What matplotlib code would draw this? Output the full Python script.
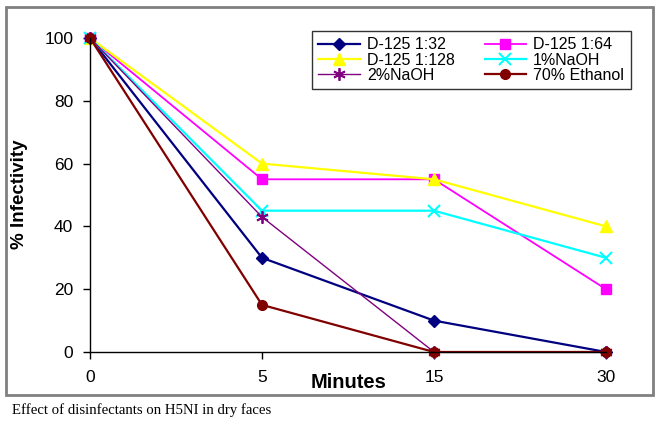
import matplotlib
matplotlib.use("Agg")
import matplotlib.pyplot as plt
from matplotlib.patches import Rectangle

minutes = ["0", "5", "15", "30"]
series_names = ["D-125 1:32", "D-125 1:64", "D-125 1:128", "1%NaOH", "2%NaOH", "70% Ethanol"]
d125_132 = [100, 30, 10, 0]
d125_164 = [100, 55, 55, 20]
d125_1128 = [100, 60, 55, 40]
naoh1 = [100, 45, 45, 30]
naoh2 = [100, 43, 0, 0]
ethanol70 = [100, 15, 0, 0]

plt.rcParams['font.family'] = ['Liberation Sans', 'DejaVu Sans']

fig = plt.figure(figsize=(6.61, 4.34), dpi=100)
ax = fig.add_axes([90/661, 1-352/434, 516/661, 314/434])

styles = [
    dict(color="#000080", marker="D", ms=6, lw=1.6),
    dict(color="#FF00FF", marker="s", ms=7, lw=1.3),
    dict(color="#FFFF00", marker="^", ms=8, lw=1.6),
    dict(color="#00FFFF", marker="x", ms=8, lw=1.6, mew=1.5),
    dict(color="#800080", marker=(6, 2, 0), ms=9, lw=1.0, mew=1.3),
    dict(color="#800000", marker="o", ms=7, lw=1.6),
]
data = [d125_132, d125_164, d125_1128, naoh1, naoh2, ethanol70]
xs = list(range(len(minutes)))
handles = []
for name, vals, st in zip(series_names, data, styles):
    h, = ax.plot(xs, vals, label=name, clip_on=False, **st)
    handles.append(h)

ax.set_xlim(0, 3)
ax.set_ylim(0, 100)
ax.set_xticks(xs)
ax.set_xticklabels(minutes)
ax.set_yticks([0, 20, 40, 60, 80, 100])
ax.spines['top'].set_visible(False)
ax.spines['right'].set_visible(False)
ax.spines['left'].set_linewidth(1)
ax.spines['bottom'].set_linewidth(1)
ax.tick_params(axis='both', direction='out', length=5, width=1, labelsize=12.5, pad=8)
ax.tick_params(axis='y', pad=7)
ax.set_facecolor('white')

fig.text(20/661, 1-194/434, "% Infectivity", rotation=90, fontsize=13.5, fontweight='bold',
         ha='center', va='center')
fig.text(349/661, 1-383/434, "Minutes", fontsize=14.5, fontweight='bold', ha='center', va='center')
fig.text(12/661, 1-410/434, "Effect of disinfectants on H5NI in dry faces", fontsize=10.6,
         family='Liberation Serif', ha='left', va='center')

frame = Rectangle((6/661, 1-395/434), 647/661, 388/434, transform=fig.transFigure,
                  fill=False, edgecolor='#808080', lw=2, zorder=0)
fig.patches.append(frame)

order = [0, 2, 4, 1, 3, 5]
leg = ax.legend([handles[i] for i in order], [series_names[i] for i in order],
                ncol=2, loc='upper left', bbox_to_anchor=(312/661, 1-31/434),
                bbox_transform=fig.transFigure, borderaxespad=0, fontsize=11.5,
                frameon=True, fancybox=False, edgecolor='black', handlelength=2.6,
                handletextpad=0.45, columnspacing=1.85, labelspacing=0.02,
                borderpad=0.4)
leg.get_frame().set_linewidth(1)

fig.savefig("out.png", dpi=100)
